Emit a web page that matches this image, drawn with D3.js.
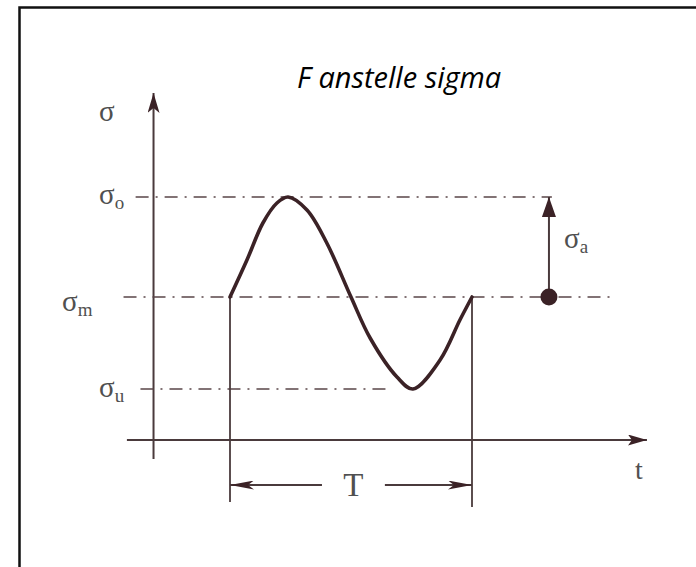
<!DOCTYPE html>
<html>
<head>
<meta charset="utf-8">
<script src="https://cdn.jsdelivr.net/npm/d3@7"></script>
<style>
  html, body { margin: 0; padding: 0; background: #fff; }
  svg { display: block; }
</style>
</head>
<body>
<svg id="chart" width="696" height="567"></svg>
<script>
// One load cycle of period T: time t (in periods) against stress σ (in units of σa, σm = 0)
const cycleT     = [0, 0.070, 0.136, 0.194, 0.240, 0.318, 0.400, 0.500, 0.579, 0.690, 0.756, 0.868, 0.950, 1.000];
const cycleSigma = [0, 0.37,  0.74,  0.94,  1.00,  0.87,  0.54,  0.00, -0.41, -0.80, -0.92, -0.63, -0.23, 0.00];

// Horizontal reference levels (σo upper, σm mean, σu lower) and their extent in t
const levelNames  = ["o", "m", "u"];
const levelValues = [1.00, 0.00, -0.92];
const levelFrom   = [-0.39, -0.44, -0.37];
const levelTo     = [1.33, 1.59, 0.65];

// Axis extents in (t, σ)
const tAxisExtent     = [-0.426, 1.723];
const sigmaAxisExtent = [-1.62, 2.04];
const axisT           = -0.316;  // where the σ axis stands
const axisSigma       = -1.43;   // where the t axis runs

// Amplitude marker σa and period dimension T
const ampT       = 1.318;
const periodY    = -1.88;
const periodGap  = [0.38, 0.64];
const extLineEnd = [-2.05, -2.10];

const svg = d3.select("#chart");
const x = d3.scaleLinear().domain([0, 1]).range([230, 472]);
const y = d3.scaleLinear().domain([0, 1]).range([297, 197]);

const ink = "#4a3a3c";
const curveInk = "#3b2226";
const labelInk = "#505050";

// frame
svg.append("path")
  .attr("d", "M19.5,720 V7.5 H720")
  .attr("fill", "none").attr("stroke", "#111").attr("stroke-width", 2.5);

// arrow heads
const defs = svg.append("defs");
function head(id, len, half, notch) {
  defs.append("marker")
    .attr("id", id)
    .attr("viewBox", `0 ${-half} ${len} ${half * 2}`)
    .attr("refX", len).attr("refY", 0)
    .attr("markerUnits", "userSpaceOnUse")
    .attr("markerWidth", len).attr("markerHeight", half * 2)
    .attr("orient", "auto-start-reverse")
    .append("path")
    .attr("d", `M0,${-half} L${len},0 L0,${half} L${notch},0 Z`)
    .attr("fill", curveInk);
}
head("tHead", 19, 5.5, 4);
head("sHead", 20, 6, 5);
head("dimHead", 24, 4.5, 6);
head("ampHead", 20, 7, 0);

// axes
svg.append("line")
  .attr("x1", x(axisT)).attr("x2", x(axisT))
  .attr("y1", y(sigmaAxisExtent[0])).attr("y2", y(sigmaAxisExtent[1]))
  .attr("stroke", ink).attr("stroke-width", 2)
  .attr("marker-end", "url(#sHead)");
svg.append("line")
  .attr("x1", x(tAxisExtent[0])).attr("x2", x(tAxisExtent[1]))
  .attr("y1", y(axisSigma)).attr("y2", y(axisSigma))
  .attr("stroke", ink).attr("stroke-width", 2.2)
  .attr("marker-end", "url(#tHead)");

// dash-dot reference levels
svg.selectAll(".level")
  .data(levelValues)
  .join("line")
  .attr("class", "level")
  .attr("x1", (d, i) => x(levelFrom[i]))
  .attr("x2", (d, i) => x(levelTo[i]))
  .attr("y1", d => y(d)).attr("y2", d => y(d))
  .attr("stroke", "#5a4548").attr("stroke-width", 1.7)
  .attr("stroke-dasharray", "13,7,2,7");

// extension lines bounding one period
svg.selectAll(".ext")
  .data([0, 1])
  .join("line")
  .attr("class", "ext")
  .attr("x1", d => x(d)).attr("x2", d => x(d))
  .attr("y1", y(0)).attr("y2", (d, i) => y(extLineEnd[i]))
  .attr("stroke", ink).attr("stroke-width", 1.8);

// period dimension T
svg.append("line")
  .attr("x1", x(periodGap[0])).attr("x2", x(0))
  .attr("y1", y(periodY)).attr("y2", y(periodY))
  .attr("stroke", ink).attr("stroke-width", 2)
  .attr("marker-end", "url(#dimHead)");
svg.append("line")
  .attr("x1", x(periodGap[1])).attr("x2", x(1))
  .attr("y1", y(periodY)).attr("y2", y(periodY))
  .attr("stroke", ink).attr("stroke-width", 2)
  .attr("marker-end", "url(#dimHead)");

// stress cycle
const pts = cycleT.map((t, i) => [t, cycleSigma[i]]);
svg.append("path")
  .datum(pts)
  .attr("d", d3.line().x(d => x(d[0])).y(d => y(d[1])).curve(d3.curveCatmullRom.alpha(0.5)))
  .attr("fill", "none").attr("stroke", curveInk).attr("stroke-width", 3.6)
  .attr("stroke-linejoin", "round").attr("stroke-linecap", "round");

// amplitude σa: mean point with arrow up to σo
svg.append("line")
  .attr("x1", x(ampT)).attr("x2", x(ampT))
  .attr("y1", y(0)).attr("y2", y(levelValues[0]))
  .attr("stroke", ink).attr("stroke-width", 2)
  .attr("marker-end", "url(#ampHead)");
svg.append("circle")
  .attr("cx", x(ampT)).attr("cy", y(0)).attr("r", 8.5)
  .attr("fill", curveInk);

// labels
const serif = "'Liberation Serif', 'DejaVu Serif', serif";
function sigmaLabel(px, py, sub) {
  const t = svg.append("text")
    .attr("x", px).attr("y", py)
    .attr("font-family", serif).attr("font-size", 29)
    .attr("fill", labelInk);
  t.append("tspan").text("σ");
  if (sub) {
    t.append("tspan").attr("font-size", 19).attr("dy", 5).text(sub);
  }
}
sigmaLabel(99, 121, null);
sigmaLabel(99, 204, levelNames[0]);
sigmaLabel(62, 311, levelNames[1]);
sigmaLabel(99, 397, levelNames[2]);
sigmaLabel(564, 248, "a");

svg.append("text")
  .attr("x", x((periodGap[0] + periodGap[1]) / 2)).attr("y", y(periodY) + 11)
  .attr("text-anchor", "middle")
  .attr("font-family", serif).attr("font-size", 33).attr("fill", labelInk)
  .text("T");
svg.append("text")
  .attr("x", 635).attr("y", 479)
  .attr("font-family", serif).attr("font-size", 28).attr("fill", labelInk)
  .text("t");

// title
svg.append("text")
  .attr("x", 297).attr("y", 88)
  .attr("font-family", "'Open Sans', 'Noto Sans', sans-serif")
  .attr("font-style", "italic").attr("font-size", 29)
  .attr("fill", "#000")
  .text("F anstelle sigma");
</script>
</body>
</html>
